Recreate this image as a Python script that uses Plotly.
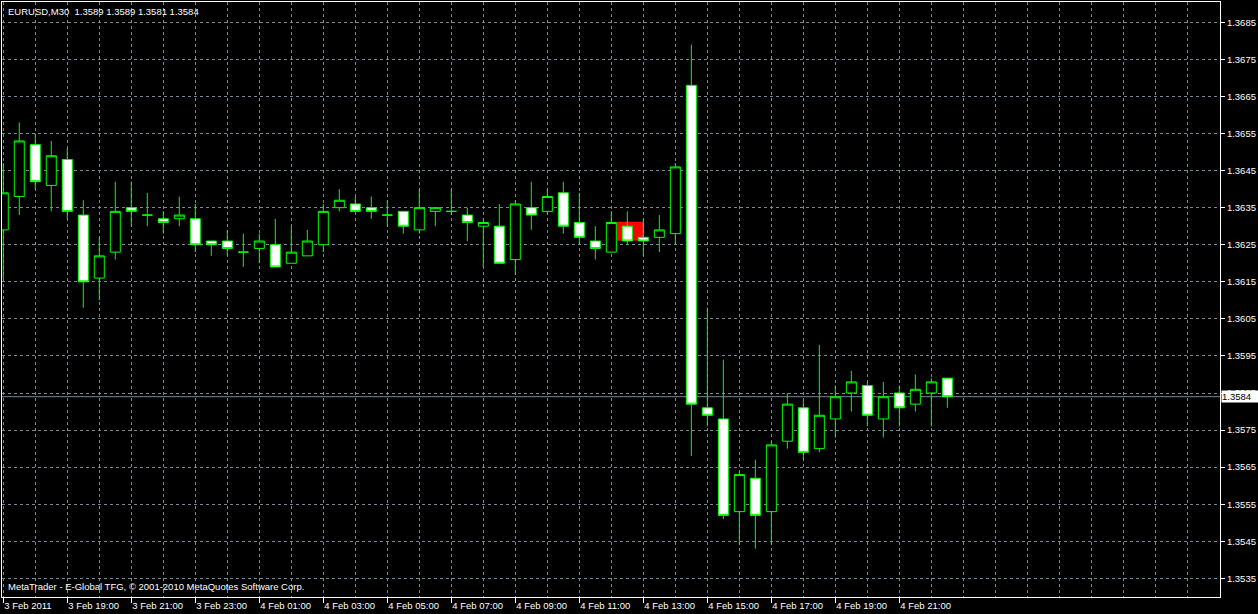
import plotly.graph_objects as go

# ---- data (EURUSD M30, 3 Feb 2011 17:00 -> 4 Feb 2011 22:30) ----
bars = list(range(60))
opens = [1.3629, 1.3638, 1.3652, 1.3641, 1.3648, 1.3633, 1.3616, 1.3623, 1.3635, 1.3633,
         1.3632, 1.3632, 1.3632, 1.3626, 1.3626, 1.3623, 1.3624, 1.3625, 1.3620, 1.3622,
         1.3625, 1.3635, 1.3636, 1.3635, 1.3633, 1.3634, 1.3629, 1.3634, 1.3634, 1.3633,
         1.3630, 1.3630, 1.3621, 1.3635, 1.3634, 1.3639, 1.3631, 1.3626, 1.3623, 1.3630,
         1.3627, 1.3627, 1.3628, 1.3668, 1.3581, 1.3578, 1.3553, 1.3562, 1.3553, 1.3572,
         1.3581, 1.3570, 1.3578, 1.3585, 1.3587, 1.3578, 1.3585, 1.3582, 1.3585, 1.3589]
highs = [1.3647, 1.3658, 1.3655, 1.3653, 1.3651, 1.3637, 1.3627, 1.3642, 1.3642, 1.3639,
         1.3634, 1.3638, 1.3636, 1.3626, 1.3629, 1.3628, 1.3628, 1.3632, 1.3630, 1.3629,
         1.3636, 1.3640, 1.3638, 1.3638, 1.3637, 1.3634, 1.3640, 1.3635, 1.3640, 1.3635,
         1.3632, 1.3636, 1.3637, 1.3642, 1.3640, 1.3642, 1.3639, 1.3630, 1.3634, 1.3634,
         1.3632, 1.3633, 1.3647, 1.3679, 1.3608, 1.3594, 1.3564, 1.3567, 1.3572, 1.3585,
         1.3583, 1.3598, 1.3587, 1.3591, 1.3588, 1.3588, 1.3587, 1.3590, 1.3589, 1.3589]
lows = [1.3616, 1.3633, 1.3640, 1.3634, 1.3632, 1.3608, 1.3610, 1.3621, 1.3630, 1.3630,
        1.3628, 1.3630, 1.3623, 1.3622, 1.3622, 1.3619, 1.3620, 1.3619, 1.3620, 1.3622,
        1.3623, 1.3634, 1.3634, 1.3632, 1.3630, 1.3628, 1.3628, 1.3630, 1.3633, 1.3626,
        1.3619, 1.3620, 1.3617, 1.3629, 1.3633, 1.3628, 1.3625, 1.3621, 1.3623, 1.3625,
        1.3622, 1.3623, 1.3625, 1.3568, 1.3576, 1.3551, 1.3544, 1.3543, 1.3544, 1.3570,
        1.3567, 1.3569, 1.3573, 1.3580, 1.3576, 1.3573, 1.3576, 1.3580, 1.3576, 1.3581]
closes = [1.3639, 1.3653, 1.3642, 1.3649, 1.3634, 1.3615, 1.3622, 1.3634, 1.3634, 1.3633,
          1.3631, 1.3633, 1.3625, 1.3625, 1.3624, 1.3623, 1.3626, 1.3619, 1.3623, 1.3626,
          1.3634, 1.3637, 1.3634, 1.3634, 1.3633, 1.3630, 1.3635, 1.3635, 1.3634, 1.3631,
          1.3631, 1.3620, 1.3636, 1.3633, 1.3638, 1.3630, 1.3627, 1.3624, 1.3631, 1.3626,
          1.3626, 1.3629, 1.3646, 1.3582, 1.3579, 1.3552, 1.3563, 1.3552, 1.3571, 1.3582,
          1.3569, 1.3579, 1.3584, 1.3588, 1.3579, 1.3584, 1.3581, 1.3586, 1.3588, 1.3584]

time_tick_bars = [0, 4, 8, 12, 16, 20, 24, 28, 32, 36, 40, 44, 48, 52, 56]
time_tick_labels = ["3 Feb 2011", "3 Feb 19:00", "3 Feb 21:00", "3 Feb 23:00",
                    "4 Feb 01:00", "4 Feb 03:00", "4 Feb 05:00", "4 Feb 07:00",
                    "4 Feb 09:00", "4 Feb 11:00", "4 Feb 13:00", "4 Feb 15:00",
                    "4 Feb 17:00", "4 Feb 19:00", "4 Feb 21:00"]
price_ticks = [1.3535, 1.3545, 1.3555, 1.3565, 1.3575, 1.3585, 1.3595, 1.3605,
               1.3615, 1.3625, 1.3635, 1.3645, 1.3655, 1.3665, 1.3675, 1.3685]
price_tick_labels = ["%.4f" % p for p in price_ticks]

last_price = closes[-1]
rect_bar_start, rect_bar_end = 38.34, 40.0
rect_price_low, rect_price_high = 1.36261, 1.36312

GRID = "#778899"
LIME = "#00ff00"
FONT = "Liberation Sans"

fig = go.Figure()
fig.add_trace(go.Candlestick(
    x=bars, open=opens, high=highs, low=lows, close=closes,
    increasing=dict(fillcolor="#000000", line=dict(color=LIME, width=1)),
    decreasing=dict(fillcolor="#ffffff", line=dict(color=LIME, width=1)),
    whiskerwidth=0, showlegend=False, hoverinfo="skip",
))

fig.update_layout(
    width=1258, height=614,
    margin=dict(l=2, r=38, t=2, b=17, autoexpand=False),
    paper_bgcolor="#000000", plot_bgcolor="#000000",
    font=dict(family=FONT, size=9.5, color="#ffffff"),
    boxgap=0.375, boxgroupgap=0,
    showlegend=False,
    xaxis=dict(
        range=[-0.08, 76.04], rangeslider=dict(visible=False),
        tickmode="array", tickvals=time_tick_bars, ticktext=time_tick_labels,
        ticklabelposition="outside right",
        ticks="outside", ticklen=5, tickcolor="#ffffff", tickwidth=1,
        tickfont=dict(family=FONT, size=9.5, color="#ffffff"),
        showgrid=True, gridcolor=GRID, gridwidth=1, griddash="3px,3px",
        minor=dict(tick0=0, dtick=2, showgrid=True, gridcolor=GRID, gridwidth=1,
                   griddash="3px,3px", ticks=""),
        showline=True, linecolor="#ffffff", linewidth=1, mirror=True,
        zeroline=False, fixedrange=True, automargin=False,
    ),
    yaxis=dict(
        range=[1.352997, 1.369048], side="right",
        tickmode="array", tickvals=price_ticks, ticktext=price_tick_labels,
        ticks="outside", ticklen=4, tickcolor="#ffffff", tickwidth=1,
        tickfont=dict(family=FONT, size=9.5, color="#ffffff"),
        showgrid=True, gridcolor=GRID, gridwidth=1, griddash="3px,3px",
        showline=True, linecolor="#ffffff", linewidth=1, mirror=True,
        zeroline=False, fixedrange=True, automargin=False,
    ),
)

fig.add_shape(type="rect", xref="x", yref="y",
              x0=rect_bar_start, x1=rect_bar_end, y0=rect_price_low, y1=rect_price_high,
              fillcolor="#ff0000", line=dict(width=0), layer="below")
fig.add_shape(type="line", xref="paper", yref="y", x0=0, x1=1,
              y0=last_price, y1=last_price, line=dict(color=GRID, width=1), layer="below")

fig.add_annotation(xref="paper", yref="y", x=1, y=last_price, xanchor="left",
                   yanchor="middle", xshift=1, text="%.4f" % last_price, showarrow=False,
                   bgcolor="#ffffff", font=dict(family=FONT, size=9.5, color="#000000"),
                   width=36, height=11, align="left", borderpad=0)
fig.add_annotation(xref="paper", yref="paper", x=0, y=1, xanchor="left", yanchor="top",
                   xshift=4, yshift=-2, showarrow=False,
                   text="EURUSD,M30  %.4f %.4f %.4f %.4f" % (opens[-1], highs[-1], lows[-1], closes[-1]),
                   font=dict(family=FONT, size=9.5, color="#ffffff"))
fig.add_annotation(xref="paper", yref="paper", x=0, y=0, xanchor="left", yanchor="bottom",
                   xshift=4, yshift=3, showarrow=False,
                   text="MetaTrader - E-Global TFG, © 2001-2010 MetaQuotes Software Corp.",
                   font=dict(family=FONT, size=9.5, color="#ffffff"))

fig.write_html("out.html", config=dict(displayModeBar=False),
               post_script="document.body.style.margin='0px';document.body.style.overflow='hidden';")
